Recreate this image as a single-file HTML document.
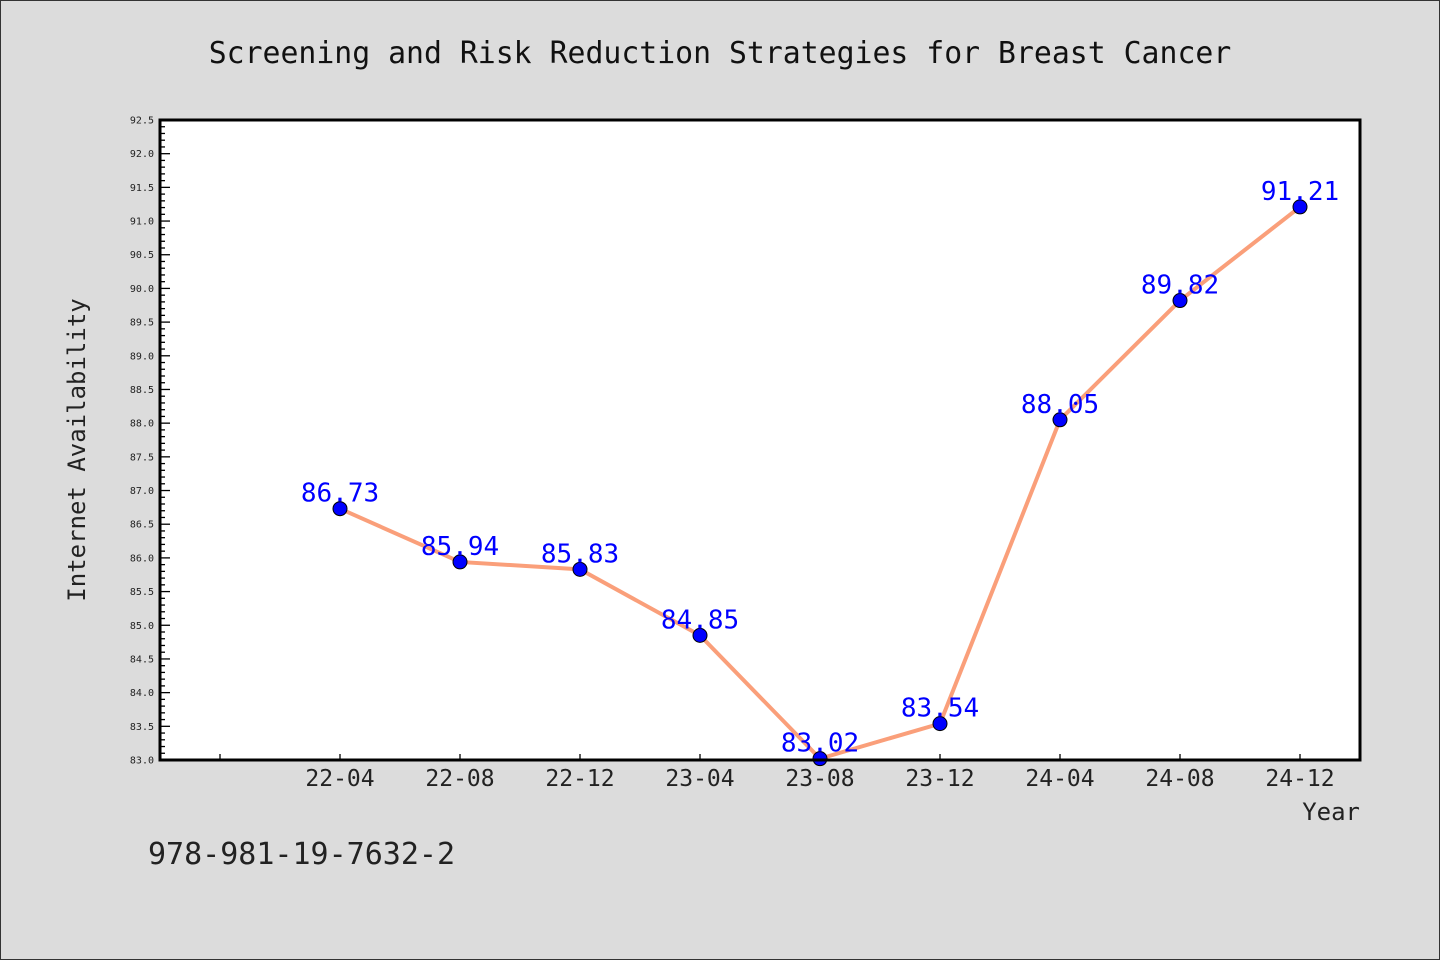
<!DOCTYPE html>
<html><head><meta charset="utf-8"><style>
html,body{margin:0;padding:0;background:#dcdcdc;}
svg{display:block;font-family:"DejaVu Sans Mono","Liberation Mono",monospace;}
</style></head><body>
<svg width="1440" height="960">
<rect x="0.5" y="0.5" width="1439" height="959" fill="#dcdcdc" stroke="#333"/>
<text x="720" y="63" text-anchor="middle" font-size="29.8" fill="#111">Screening and Risk Reduction Strategies for Breast Cancer</text>
<rect x="160" y="120" width="1200" height="640" fill="#fff"/>
<g id="axes"></g>
<g id="marks"></g>
<rect x="160" y="120" width="1200" height="640" fill="none" stroke="#000" stroke-width="3"/>
<text transform="translate(85,450) rotate(-90)" text-anchor="middle" font-size="24" fill="#222">Internet Availability</text>
<text x="1360" y="820" text-anchor="end" font-size="24" fill="#222">Year</text>
<text x="148" y="864" font-size="30" fill="#222">978-981-19-7632-2</text>
</svg>
<script>
const categories=["22-04","22-08","22-12","23-04","23-08","23-12","24-04","24-08","24-12"];
const values=[86.73,85.94,85.83,84.85,83.02,83.54,88.05,89.82,91.21];
const yTicks=[83.0,83.5,84.0,84.5,85.0,85.5,86.0,86.5,87.0,87.5,88.0,88.5,89.0,89.5,90.0,90.5,91.0,91.5,92.0,92.5];
const valueLabels=["86.73","85.94","85.83","84.85","83.02","83.54","88.05","89.82","91.21"];
const NS="http://www.w3.org/2000/svg";
const yMin=83,yMax=92.5,pTop=120,pBot=760,pLeft=160,pRight=1360;
function yScale(v){return pBot-(v-yMin)/(yMax-yMin)*(pBot-pTop);}
function xScale(i){return pLeft+(i+1.5)/10*(pRight-pLeft);}
function mk(tag,attrs,parent){const e=document.createElementNS(NS,tag);for(const k in attrs)e.setAttribute(k,attrs[k]);parent.appendChild(e);return e;}
const axesG=document.getElementById('axes'),marksG=document.getElementById('marks');
for(let k=0;k<=95;k++){const v=yMin+k*0.1;const yy=yScale(v);const major=k%5===0;
 const t=mk('line',{x1:pLeft,x2:pLeft+(major?10:5),y1:yy,y2:yy,stroke:'#000','stroke-width':1.3},axesG);
 
 }
yTicks.forEach(v=>{const t=mk('text',{x:pLeft-6,y:yScale(v)+3.5,'text-anchor':'end','font-size':10,fill:'#222'},axesG);t.textContent=v.toFixed(1);
 
 });
for(let i=-1;i<categories.length;i++){const t=mk('line',{x1:xScale(i),x2:xScale(i),y1:pBot,y2:pBot-6,stroke:'#000','stroke-width':1.3},axesG);
 
 }
categories.forEach((c,i)=>{const t=mk('text',{x:xScale(i),y:pBot+26,'text-anchor':'middle','font-size':23,fill:'#222'},axesG);t.textContent=c;
 
 });
const line=mk('polyline',{points:values.map((v,i)=>xScale(i)+','+yScale(v)).join(' '),fill:'none',stroke:'#fa9f7a','stroke-width':4},marksG);


values.forEach((v,i)=>{const c=mk('circle',{cx:xScale(i),cy:yScale(v),r:7,fill:'#0000ff',stroke:'#000','stroke-width':1},marksG);
 
 
 const t=mk('text',{x:xScale(i),y:yScale(v)-7,'text-anchor':'middle','font-size':26,fill:'#0000ff'},marksG);t.textContent=valueLabels[i];
 
 });
</script>
</body></html>
